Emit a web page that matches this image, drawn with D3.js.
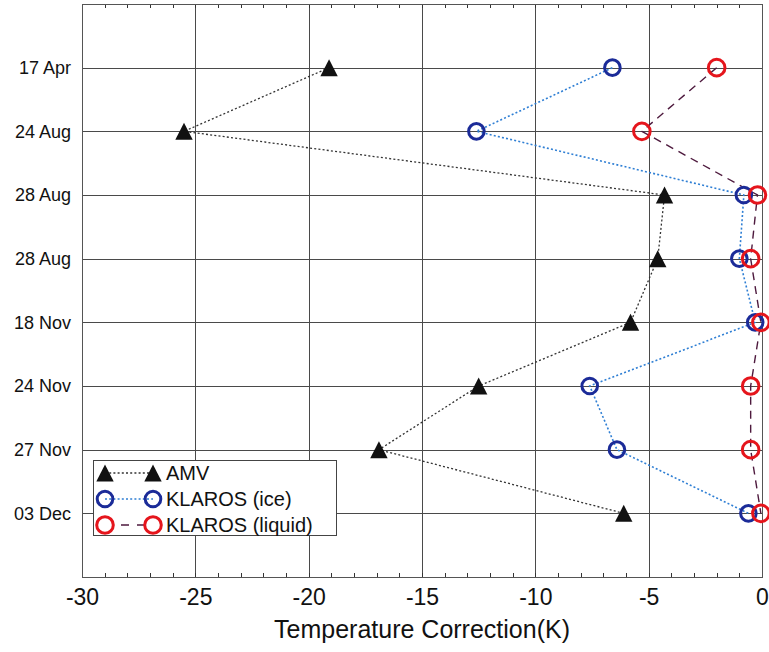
<!DOCTYPE html>
<html>
<head>
<meta charset="utf-8">
<script src="https://cdn.jsdelivr.net/npm/d3@7"></script>
<style>
  html, body { margin: 0; padding: 0; background: #fff; }
  svg { display: block; font-family: "Liberation Sans", Arial, Helvetica, sans-serif; }
</style>
</head>
<body>
<svg id="chart" width="769" height="652"></svg>
<script>
// Case dates (one row per case; two separate cases on 28 Aug)
const dates = ["17 Apr", "24 Aug", "28 Aug", "28 Aug", "18 Nov", "24 Nov", "27 Nov", "03 Dec"];

// Temperature correction (K) per case
const amv        = [-19.1, -25.5, -4.3, -4.6, -5.8, -12.5, -16.9, -6.1];
const klarosIce  = [-6.6, -12.6, -0.8, -1.0, -0.3, -7.6, -6.4, -0.6];
const klarosLiq  = [-2.0, -5.3, -0.2, -0.5, -0.05, -0.5, -0.5, -0.05];

const xMajorTicks = [-30, -25, -20, -15, -10, -5, 0];
const xGridValues = [-25, -20, -15, -10, -5];

const W = 769, H = 652;
const plot = { left: 82, right: 762, top: 4, bottom: 577 };

const svg = d3.select("#chart");

const x = d3.scaleLinear().domain([-30, 0]).range([plot.left, plot.right]);
const y = d3.scalePoint().domain(d3.range(dates.length)).range([plot.top, plot.bottom]).padding(1);

// Grid
const grid = svg.append("g").attr("stroke", "#4a4a4a").attr("stroke-width", 1);
grid.selectAll("line.v").data(xGridValues).join("line")
  .attr("class", "v")
  .attr("x1", d => Math.round(x(d)) + 0.5).attr("x2", d => Math.round(x(d)) + 0.5)
  .attr("y1", plot.top).attr("y2", plot.bottom);
grid.selectAll("line.h").data(d3.range(dates.length)).join("line")
  .attr("class", "h")
  .attr("x1", plot.left).attr("x2", plot.right)
  .attr("y1", d => Math.round(y(d)) + 0.5).attr("y2", d => Math.round(y(d)) + 0.5);

// Minor ticks on top and bottom edges, pointing inward
const minor = d3.range(-30, 1, 1);
const ticksG = svg.append("g").attr("stroke", "#333").attr("stroke-width", 1);
ticksG.selectAll("line.b").data(minor).join("line")
  .attr("x1", d => Math.round(x(d)) + 0.5).attr("x2", d => Math.round(x(d)) + 0.5)
  .attr("y1", plot.bottom).attr("y2", plot.bottom - 4);
ticksG.selectAll("line.t").data(minor).join("line")
  .attr("x1", d => Math.round(x(d)) + 0.5).attr("x2", d => Math.round(x(d)) + 0.5)
  .attr("y1", plot.top).attr("y2", plot.top + 4);

// Frame
svg.append("rect")
  .attr("x", plot.left + 0.5).attr("y", plot.top + 0.5)
  .attr("width", plot.right - plot.left).attr("height", plot.bottom - plot.top)
  .attr("fill", "none").attr("stroke", "#555").attr("stroke-width", 1);

// Bottom axis labels
const xAxis = d3.axisBottom(x).tickValues(xMajorTicks).tickSize(0).tickPadding(12)
  .tickFormat(d => d3.format("d")(d).replace("−", "-"));
const gx = svg.append("g").attr("transform", `translate(0,${plot.bottom})`).call(xAxis);
gx.select(".domain").remove();
gx.selectAll("text").attr("font-size", 23).attr("fill", "#111")
  .attr("font-family", "Liberation Sans, Arial, sans-serif");

// Left axis labels
const yAxis = d3.axisLeft(y).tickSize(0).tickPadding(11).tickFormat(i => dates[i]);
const gy = svg.append("g").attr("transform", `translate(${plot.left},0)`).call(yAxis);
gy.select(".domain").remove();
gy.selectAll("text").attr("font-size", 18).attr("fill", "#111")
  .attr("font-family", "Liberation Sans, Arial, sans-serif");

// Axis title
svg.append("text")
  .attr("x", (plot.left + plot.right) / 2).attr("y", 638)
  .attr("text-anchor", "middle").attr("font-size", 25).attr("fill", "#111")
  .text("Temperature Correction(K)");

// Series
const triPath = "M0,-8.5L8.7,8.5L-8.7,8.5Z";
const series = [
  { name: "AMV", values: amv, line: "#333", width: 1.3, dash: "2,2.2", legendDash: "2,2.2", marker: "tri" },
  { name: "KLAROS (ice)", values: klarosIce, line: "#2f7fd4", width: 1.6, dash: "2,2.2", legendDash: "2,2.2", marker: "circle", color: "#1b2b98" },
  { name: "KLAROS (liquid)", values: klarosLiq, line: "#4e1a3e", width: 1.4, dash: "8,6", legendDash: "0,16,8,8,8,20", marker: "circle", color: "#e5151c" }
];

const line = d3.line().x(d => x(d.v)).y(d => y(d.i));

series.forEach(s => {
  const pts = s.values.map((v, i) => ({ v, i }));
  svg.append("path").datum(pts)
    .attr("d", line)
    .attr("fill", "none")
    .attr("stroke", s.line)
    .attr("stroke-width", s.width)
    .attr("stroke-dasharray", s.dash);
});

series.forEach(s => {
  const pts = s.values.map((v, i) => ({ v, i }));
  const g = svg.append("g");
  if (s.marker === "tri") {
    g.selectAll("path").data(pts).join("path")
      .attr("d", triPath)
      .attr("transform", d => `translate(${x(d.v)},${y(d.i)})`)
      .attr("fill", "#111");
  } else {
    g.selectAll("circle").data(pts).join("circle")
      .attr("cx", d => x(d.v)).attr("cy", d => y(d.i))
      .attr("r", s.name === "KLAROS (ice)" ? 7.8 : 8.3)
      .attr("fill", "none")
      .attr("stroke", s.color)
      .attr("stroke-width", 3);
  }
});

// Legend
const lg = svg.append("g");
lg.append("rect")
  .attr("x", 93.5).attr("y", 460.5).attr("width", 243).attr("height", 75)
  .attr("fill", "#fff").attr("stroke", "#444").attr("stroke-width", 1);
const rowY = [473, 499, 525];
const sx1 = 105, sx2 = 153;
series.forEach((s, k) => {
  const yy = rowY[k];
  lg.append("line")
    .attr("x1", sx1).attr("x2", sx2).attr("y1", yy).attr("y2", yy)
    .attr("stroke", s.line).attr("stroke-width", s.width)
    .attr("stroke-dasharray", s.legendDash);
  [sx1, sx2].forEach(px => {
    if (s.marker === "tri") {
      lg.append("path").attr("d", triPath)
        .attr("transform", `translate(${px},${yy})`).attr("fill", "#111");
    } else {
      lg.append("circle").attr("cx", px).attr("cy", yy)
        .attr("r", k === 1 ? 7.8 : 8.3)
        .attr("fill", "none").attr("stroke", s.color).attr("stroke-width", 3);
    }
  });
  lg.append("text")
    .attr("x", 166).attr("y", yy).attr("dy", "0.36em")
    .attr("font-size", 20).attr("fill", "#111")
    .text(s.name);
});
</script>
</body>
</html>
